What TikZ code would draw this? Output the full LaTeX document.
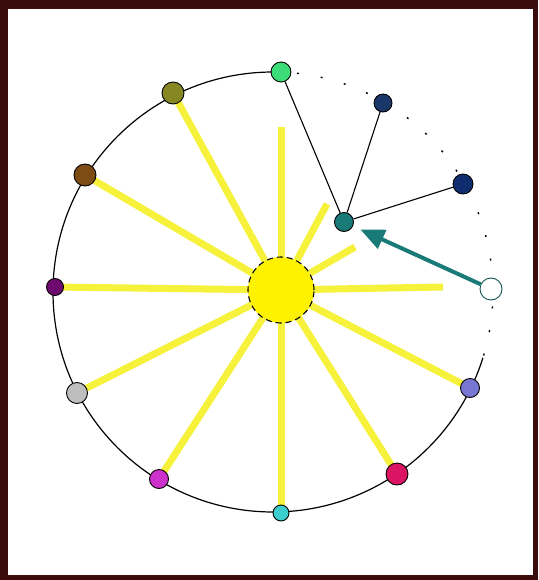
\documentclass[tikz,border=0pt]{standalone}
\usetikzlibrary{arrows.meta}
\definecolor{frame}{HTML}{3A0C0C}
\definecolor{ray}{HTML}{F6F23C}
\definecolor{tealc}{HTML}{1A7A78}
\begin{document}
\begin{tikzpicture}[x=1pt,y=-1pt,
  dot/.style={circle,draw=black,line width=0.9pt,inner sep=0pt,minimum size=#1},
  dot/.default=19pt,
  rayl/.style={ray,line width=7pt},
  link/.style={black,line width=1.1pt}]
\fill[frame] (0,0) rectangle (538,580);
\fill[white] (8,9) rectangle (533,575);
\useasboundingbox (0,0) rectangle (538,580);
\coordinate (C) at (273,292);
\coordinate (S) at (281,290);
% solid arc
\draw[black,line width=1.2pt] (273,72) arc[start angle=-90,end angle=-342.6,radius=220];
% dotted arc
\draw[black,line width=1.4pt,dash pattern=on 2pt off 22pt] (273,72) arc[start angle=-90,end angle=17,radius=220];
% rays
\coordinate (olivep) at (173,93);
\coordinate (brownp) at (85,175);
\coordinate (purplep) at (55,287);
\coordinate (grayp) at (77,393);
\coordinate (magp) at (159,479);
\coordinate (cyanp) at (281,513);
\coordinate (crimp) at (397,474);
\coordinate (lavp) at (470,388);
\coordinate (r1) at (281,127);
\coordinate (r2) at (327,204);
\coordinate (r3) at (355,247);
\coordinate (r4) at (443,287);
\foreach \p in {olivep,brownp,purplep,grayp,magp,cyanp,crimp,lavp,r1,r2,r3,r4}
  \draw[rayl] (S) -- (\p);
% sun
\node[circle,fill=yellow,draw=black,dash pattern=on 6pt off 4pt,line width=1.1pt,minimum size=66pt,inner sep=0pt] (sun) at (S) {};
% nodes
\node[dot=20pt,fill={rgb,255:red,60;green,220;blue,120}] (green) at (281,72) {};
\node[dot=18pt,fill={rgb,255:red,25;green,55;blue,105}] (nv1) at (383,103) {};
\node[dot=20pt,fill={rgb,255:red,15;green,45;blue,110}] (nv2) at (463,184) {};
\node[dot=19pt,fill=tealc] (teal) at (344,222) {};
\node[dot=22pt,draw=tealc!70!black,fill=white] (open) at (491,289) {};
\node[dot=22pt,fill={rgb,255:red,135;green,135;blue,35}] (olive) at (olivep) {};
\node[dot=22pt,fill={rgb,255:red,125;green,75;blue,20}] (brown) at (brownp) {};
\node[dot=17pt,fill={rgb,255:red,110;green,10;blue,110}] (purple) at (purplep) {};
\node[dot=21pt,fill={rgb,255:red,190;green,190;blue,190}] (gray) at (grayp) {};
\node[dot=19pt,fill={rgb,255:red,205;green,50;blue,205}] (mag) at (magp) {};
\node[dot=16pt,fill={rgb,255:red,60;green,205;blue,205}] (cyan) at (cyanp) {};
\node[dot=22pt,fill={rgb,255:red,220;green,20;blue,100}] (crim) at (crimp) {};
\node[dot=19pt,fill={rgb,255:red,120;green,120;blue,210}] (lav) at (lavp) {};
% links
\draw[link] (teal) -- (green);
\draw[link] (teal) -- (nv1);
\draw[link] (teal) -- (nv2);
% arrow
\draw[tealc,line width=4pt,-{Triangle[length=24pt,width=20pt]},shorten >=8pt] (open) -- (teal);
\end{tikzpicture}
\end{document}
